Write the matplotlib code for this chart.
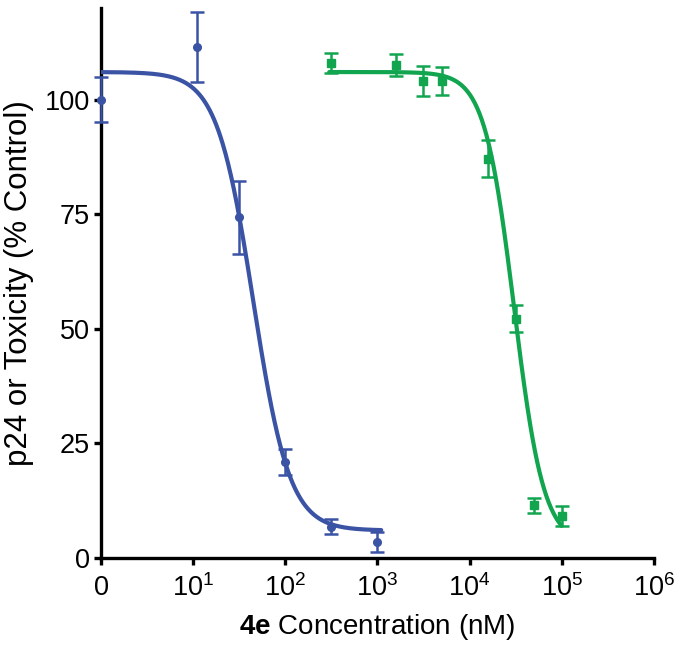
import numpy as np
import matplotlib
matplotlib.use("Agg")
import matplotlib.pyplot as plt

plt.rcParams['font.family'] = ['Liberation Sans', 'DejaVu Sans']
plt.rcParams['mathtext.fontset'] = 'custom'
plt.rcParams['mathtext.rm'] = 'Liberation Sans'
plt.rcParams['mathtext.bf'] = 'Liberation Sans:bold'

# ---- data (x = concentration in nM; 0 nM drawn at the "0" position = 1) ----
blue_conc = [1, 11, 31.6, 100, 316, 1000]
blue_val = [100, 111.5, 74.3, 21.0, 6.8, 3.5]
blue_err = [5.0, 7.7, 8.0, 2.8, 1.6, 2.2]

green_conc = [316, 1580, 3160, 5000, 15800, 31600, 50000, 100000]
green_val = [108, 107.5, 104, 104, 87.1, 52.2, 11.5, 9.2]
green_err = [2.2, 2.4, 3.3, 3.1, 4.0, 3.0, 1.6, 2.2]

# fitted 4-parameter logistic curves: (top, bottom, IC50, hill, x-start, x-end)
blue_fit = dict(top=106.0, bottom=6.0, ic50=45.0, hill=2.2, x0=1.0, x1=1100.0)
green_fit = dict(top=106.0, bottom=3.0, ic50=30500.0, hill=2.7, x0=300.0, x1=100000.0)

xticks = [1, 1e1, 1e2, 1e3, 1e4, 1e5, 1e6]
xticklabels = ['0', r'$10^1$', r'$10^2$', r'$10^3$', r'$10^4$', r'$10^5$', r'$10^6$']
yticks = [0, 25, 50, 75, 100]

BLUE = '#3a53a4'
GREEN = '#12a550'


def logistic(x, p):
    return p['bottom'] + (p['top'] - p['bottom']) / (1 + (x / p['ic50']) ** p['hill'])


fig = plt.figure(figsize=(7.0, 6.54), dpi=100)
ax = fig.add_axes([0.1443, 0.1468, 0.7897, 0.8412])

for p, c in ((blue_fit, BLUE), (green_fit, GREEN)):
    xs = np.logspace(np.log10(p['x0']), np.log10(p['x1']), 400)
    ax.plot(xs, logistic(xs, p), color=c, lw=3.0, solid_capstyle='round', zorder=3)

ax.errorbar(blue_conc, blue_val, yerr=blue_err, fmt='o', color=BLUE, ms=5.5,
            elinewidth=1.8, capsize=5, capthick=1.8, zorder=4, clip_on=False)
ax.errorbar(green_conc, green_val, yerr=green_err, fmt='s', color=GREEN, ms=5.5,
            elinewidth=1.8, capsize=5, capthick=1.8, zorder=4, clip_on=False)

ax.set_xscale('log')
ax.set_xlim(1, 1e6)
ax.set_ylim(0, 120)
ax.set_xticks(xticks)
ax.set_xticklabels(xticklabels)
ax.xaxis.set_minor_locator(matplotlib.ticker.NullLocator())
ax.set_yticks(yticks)

for s in ('top', 'right'):
    ax.spines[s].set_visible(False)
for s in ('left', 'bottom'):
    ax.spines[s].set_linewidth(2.4)
ax.tick_params(axis='both', which='major', length=5, width=2.4, labelsize=19.5,
               direction='out')
ax.tick_params(axis='x', pad=7)
ax.tick_params(axis='y', pad=3)

ax.set_xlabel(r'$\mathbf{4e}$ Concentration (nM)', fontsize=20, labelpad=7)
ax.set_ylabel('p24 or Toxicity (% Control)', fontsize=22.5, labelpad=8)

fig.savefig('out.png', dpi=100)
